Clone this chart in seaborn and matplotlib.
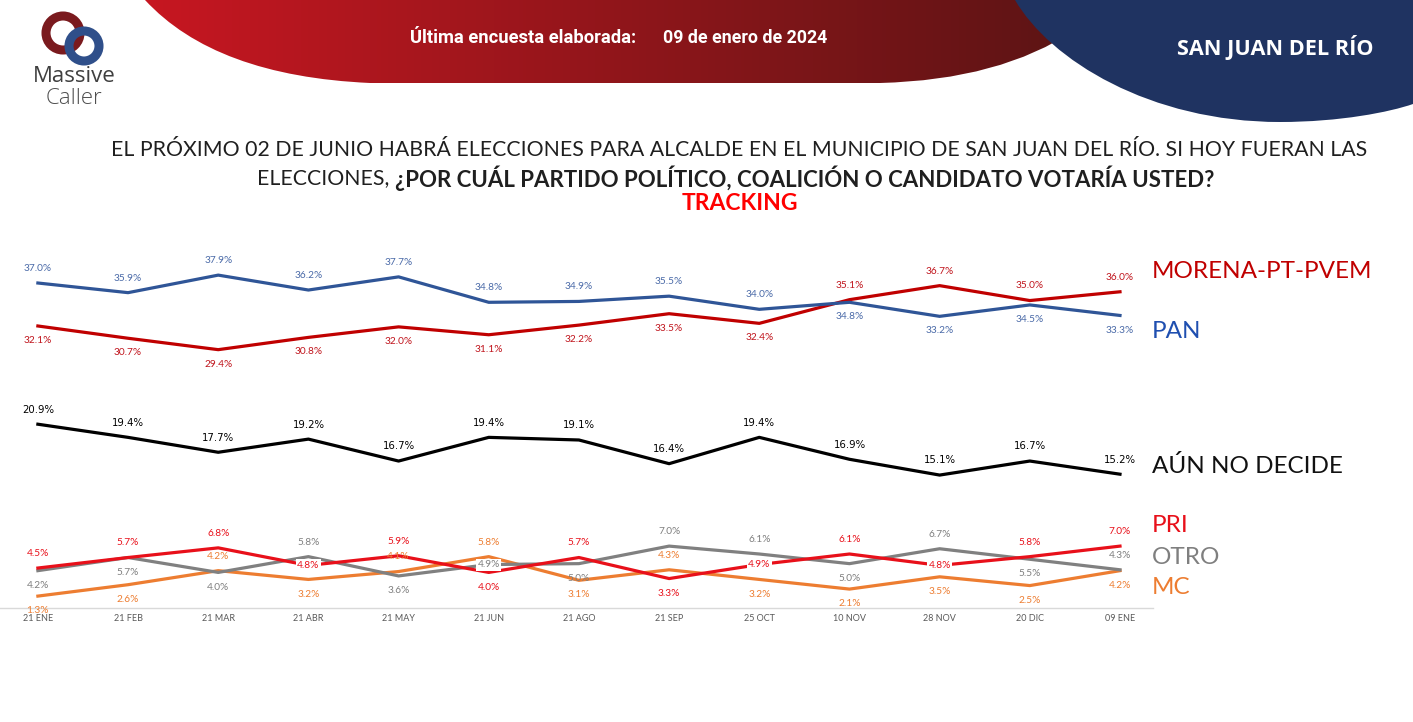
import numpy as np
import pandas as pd
import matplotlib
matplotlib.use('Agg')
import matplotlib.pyplot as plt
import seaborn as sns
from matplotlib.path import Path
from matplotlib.patches import PathPatch, Circle

# ---------------------- DATA -----------------------
fechas = ['21 ENE', '21 FEB', '21 MAR', '21 ABR', '21 MAY', '21 JUN', '21 AGO',
          '21 SEP', '25 OCT', '10 NOV', '28 NOV', '20 DIC', '09 ENE']
morena = [32.1, 30.7, 29.4, 30.8, 32.0, 31.1, 32.2, 33.5, 32.4, 35.1, 36.7, 35.0, 36.0]
pan = [37.0, 35.9, 37.9, 36.2, 37.7, 34.8, 34.9, 35.5, 34.0, 34.8, 33.2, 34.5, 33.3]
no_decide = [20.9, 19.4, 17.7, 19.2, 16.7, 19.4, 19.1, 16.4, 19.4, 16.9, 15.1, 16.7, 15.2]
pri = [4.5, 5.7, 6.8, 4.8, 5.9, 4.0, 5.7, 3.3, 4.9, 6.1, 4.8, 5.8, 7.0]
otro = [4.2, 5.7, 4.0, 5.8, 3.6, 4.9, 5.0, 7.0, 6.1, 5.0, 6.7, 5.5, 4.3]
mc = [1.3, 2.6, 4.2, 3.2, 4.1, 5.8, 3.1, 4.3, 3.2, 2.1, 3.5, 2.5, 4.2]

series = {'MORENA-PT-PVEM': morena, 'PAN': pan, 'AÚN NO DECIDE': no_decide,
          'MC': mc, 'OTRO': otro, 'PRI': pri}

# label placement per point: a = above, b = below, c = centred on a white box
pos_labels = {
    'MORENA-PT-PVEM': 'bbbbbbbbbaaaa',
    'PAN': 'aaaaaaaaabbbb',
    'AÚN NO DECIDE': 'aaaaaaaaaaaaa',
    'PRI': 'aaacababcacaa',
    'OTRO': 'bbbabcbaababa',
    'MC': 'bbabaababbbbb',
}

line_colors = {'MORENA-PT-PVEM': '#C00000', 'PAN': '#2F5597', 'AÚN NO DECIDE': '#000000',
               'PRI': '#E8101A', 'OTRO': '#808080', 'MC': '#ED7D31'}
label_colors = {'MORENA-PT-PVEM': '#C0141C', 'PAN': '#4A6AA8', 'AÚN NO DECIDE': '#000000',
                'PRI': '#E8101A', 'OTRO': '#7F7F7F', 'MC': '#ED7D31'}

rows = []
for name, vals in series.items():
    for i, v in enumerate(vals):
        rows.append({'pos': i, 'valor': v, 'serie': name})
df = pd.DataFrame(rows)

# ---------------------- PLOT -----------------------
W, H = 1413, 722
fig = plt.figure(figsize=(W / 100, H / 100), dpi=100)
fig.patch.set_facecolor('white')

# background / header layer in pixel coordinates
bg = fig.add_axes([0, 0, 1, 1])
bg.set_xlim(0, W)
bg.set_ylim(H, 0)
bg.axis('off')

# red header band with gradient
red_path = Path([(145, 0), (215, 76), (370, 83), (880, 83), (1000, 80), (1075, 30),
                 (1075, 0), (145, 0)],
                [Path.MOVETO, Path.CURVE3, Path.CURVE3, Path.LINETO, Path.CURVE3, Path.CURVE3,
                 Path.LINETO, Path.CLOSEPOLY])
red_patch = PathPatch(red_path, fc='none', ec='none')
bg.add_patch(red_patch)
grad = np.linspace(0, 1, 256)
c1 = np.array([0.78, 0.09, 0.13])
c2 = np.array([0.36, 0.08, 0.08])
img = (c1[None, :] * (1 - grad[:, None]) + c2[None, :] * grad[:, None])[None, :, :]
im = bg.imshow(img, extent=[145, 1075, 84, 0], aspect='auto', zorder=1)
im.set_clip_path(red_patch)

# blue header shape
blue_path = Path([(1015, 0), (1050, 60), (1150, 122), (1280, 122), (1340, 122), (1390, 112),
                  (1413, 104), (1413, 0), (1015, 0)],
                 [Path.MOVETO, Path.CURVE4, Path.CURVE4, Path.CURVE4, Path.CURVE4, Path.CURVE4,
                  Path.CURVE4, Path.LINETO, Path.CLOSEPOLY])
bg.add_patch(PathPatch(blue_path, fc='#1F3361', ec='none', zorder=2))
bg.set_xlim(0, W)
bg.set_ylim(H, 0)

bg.text(410, 38, 'Última encuesta elaborada:', color='white', fontsize=13.2, fontweight='bold',
        family='Roboto', va='center', ha='left', zorder=3)
bg.text(663, 38, '09 de enero de 2024', color='white', fontsize=12.8, fontweight='bold',
        family='Roboto', va='center', ha='left', zorder=3)
bg.text(1275, 48, 'SAN JUAN DEL RÍO', color='white', fontsize=15.6, fontweight='bold',
        family='Open Sans', va='center', ha='center', zorder=3)

# logo
bg.add_patch(Circle((63, 33), 17, fc='none', ec='#7A1A1E', lw=6.5, zorder=3))
bg.add_patch(Circle((84, 46), 15, fc='none', ec='#2F4F8A', lw=6.5, zorder=3))
bg.text(74, 77, 'Massive', color='#3F3F3F', fontsize=16, family='Open Sans', ha='center',
        va='center', zorder=3)
bg.text(74, 98, 'Caller', color='#4F4F4F', fontsize=16, family='Open Sans', fontweight='light',
        ha='center', va='center', zorder=3)

# title
bg.text(739, 150, 'EL PRÓXIMO 02 DE JUNIO HABRÁ ELECCIONES PARA ALCALDE EN EL MUNICIPIO DE SAN '
        'JUAN DEL RÍO. SI HOY FUERAN LAS', color='#1F1F1F', fontsize=15.3, family='Lato',
        ha='center', va='center')
bg.text(395, 178, 'ELECCIONES, ', color='#1F1F1F', fontsize=15.3, family='Lato',
        ha='right', va='center')
bg.text(395, 178, '¿POR CUÁL PARTIDO POLÍTICO, COALICIÓN O CANDIDATO VOTARÍA USTED?',
        color='#1F1F1F', fontsize=16.0, family='Lato', fontweight='bold', ha='left', va='center')
bg.text(740, 203, 'TRACKING', color='#FF0000', fontsize=16.5, family='Lato', fontweight='bold',
        ha='center', va='center')

# right side series names
legend_y = {'MORENA-PT-PVEM': 272, 'PAN': 331, 'AÚN NO DECIDE': 466, 'PRI': 525, 'OTRO': 557,
            'MC': 588}
legend_c = {'MORENA-PT-PVEM': '#C00000', 'PAN': '#1F4FB0', 'AÚN NO DECIDE': '#111111',
            'PRI': '#E8101A', 'OTRO': '#7F7F7F', 'MC': '#ED7D31'}
for name, y in legend_y.items():
    bg.text(1152, y, name, color=legend_c[name], fontsize=17.5, family='Lato', ha='left',
            va='center')

# chart axes: y=0 at pixel 607.5, 8.77 px per point; x from 0 to 1153 px
ax = fig.add_axes([0, (H - 607.5) / H, 1153 / W, 367.5 / H])
ax.set_facecolor('none')
sns.lineplot(data=df, x='pos', y='valor', hue='serie', palette=line_colors, linewidth=2.3,
             legend=False, ax=ax, sort=False)
ax.set_xlim(-0.42, 12.366)
ax.set_ylim(0, 367.5 / 8.77)

for name, vals in series.items():
    for i, v in enumerate(vals):
        p = pos_labels[name][i]
        kw = dict(ha='center', va='center', fontsize=7.3, color=label_colors[name],
                  family='DejaVu Sans Condensed' if name == 'AÚN NO DECIDE' else 'Lato')
        if p == 'a':
            ax.annotate(f'{v:.1f}%', (i, v), xytext=(0, 10.5), textcoords='offset points', **kw)
        elif p == 'b':
            ax.annotate(f'{v:.1f}%', (i, v), xytext=(0, -10.5), textcoords='offset points', **kw)
        else:
            ax.annotate(f'{v:.1f}%', (i, v), xytext=(0, 0), textcoords='offset points',
                        bbox=dict(boxstyle='square,pad=0.15', fc='white', ec='none'), **kw)

ax.set_xticks(range(len(fechas)))
ax.set_xticklabels(fechas, fontsize=6.5, color='#595959', family='Lato')
ax.tick_params(axis='x', length=0, pad=5)
ax.set_yticks([])
ax.set_xlabel('')
ax.set_ylabel('')
for s in ['top', 'right', 'left']:
    ax.spines[s].set_visible(False)
ax.spines['bottom'].set_color('#D9D9D9')
ax.spines['bottom'].set_linewidth(1)

fig.savefig('out.png', dpi=100)
